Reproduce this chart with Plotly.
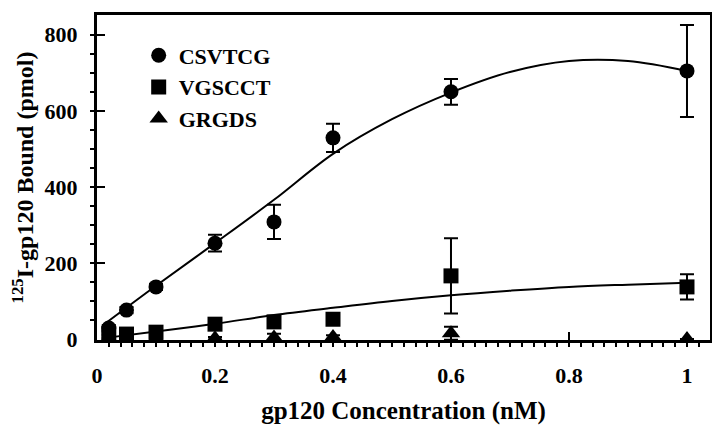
import plotly.graph_objects as go

# ---- data ----
conc = [0.02, 0.05, 0.1, 0.2, 0.3, 0.4, 0.6, 1.0]

csvtcg = [29, 76, 137, 252, 308, 529, 650, 705]
csvtcg_err = [8, 8, 8, 22, 45, 37, 34, 121]

vgscct = [15, 13, 18, 39, 45, 52, 166, 137]
vgscct_err = [4, 4, 4, 6, 5, 5, 99, 33]

grgds = [2, 2, 2, 2, 4, 5, 15, 0]
grgds_err = [0, 0, 0, 3, 10, 5, 17, 0]

# fitted curves
fit_x = [0.015, 0.1, 0.2, 0.3, 0.4, 0.5, 0.6, 0.7, 0.8, 0.9, 1.0]
fit_csvtcg = [42, 140, 252, 366, 487, 578, 648, 702, 731, 731, 705]
fit_vgscct = [3, 20, 40, 63, 82, 100, 115, 127, 137, 143, 148]

y_ticks = [0, 200, 400, 600, 800]
x_ticks = [0, 0.2, 0.4, 0.6, 0.8, 1]
x_tick_text = ["0", "0.2", "0.4", "0.6", "0.8", "1"]

FONT = "Liberation Serif, Times New Roman, serif"

fig = go.Figure()

fig.add_trace(go.Scatter(x=fit_x, y=fit_csvtcg, mode="lines",
                         line=dict(color="black", width=2, shape="spline"),
                         showlegend=False, hoverinfo="skip"))
fig.add_trace(go.Scatter(x=fit_x, y=fit_vgscct, mode="lines",
                         line=dict(color="black", width=2, shape="spline"),
                         showlegend=False, hoverinfo="skip"))

def err(a):
    return dict(type="data", array=a, visible=True, color="black",
                thickness=2, width=7)

fig.add_trace(go.Scatter(x=conc, y=csvtcg, mode="markers", name="CSVTCG",
                         legendgroup="a",
                         marker=dict(symbol="circle", size=15, color="black"),
                         error_y=err(csvtcg_err)))
fig.add_trace(go.Scatter(x=conc, y=vgscct, mode="markers", name="VGSCCT",
                         legendgroup="b",
                         marker=dict(symbol="square", size=15, color="black"),
                         error_y=err(vgscct_err)))
fig.add_trace(go.Scatter(x=conc, y=grgds, mode="markers", name="GRGDS",
                         legendgroup="c",
                         marker=dict(symbol="triangle-up", size=16, color="black"),
                         error_y=err(grgds_err)))

# page body has an 8px default margin, so the figure is sized to fit inside
fig.update_layout(
    width=704, height=417,
    margin=dict(l=89, r=2, t=7, b=85, autoexpand=False),
    paper_bgcolor="white", plot_bgcolor="white",
    font=dict(family=FONT, color="black", size=22),
    showlegend=True,
    legend=dict(x=0.068, y=0.94, xanchor="left", yanchor="top",
                bgcolor="rgba(0,0,0,0)", tracegroupgap=0,
                font=dict(family=FONT, size=22, color="black", weight="bold")),
    xaxis=dict(
        range=[0, 1.039], tickmode="array", tickvals=x_ticks, ticktext=x_tick_text,
        showgrid=False, zeroline=False, automargin=False,
        showline=True, linewidth=3, linecolor="black", mirror=True,
        ticks="inside", ticklen=8, tickwidth=2, tickcolor="black",
        minor=dict(tickmode="linear", tick0=0, dtick=0.02, ticks="outside",
                   ticklen=4, tickwidth=1.5, tickcolor="black", showgrid=False),
        tickfont=dict(family=FONT, size=22, weight="bold"),
        ticklabelstandoff=14,
        title=dict(text="gp120 Concentration (nM)", standoff=20,
                   font=dict(family=FONT, size=25, weight="bold")),
    ),
    yaxis=dict(
        range=[-2.6, 852], tickmode="array", tickvals=y_ticks,
        showgrid=False, zeroline=False, automargin=False,
        showline=True, linewidth=3, linecolor="black", mirror=True,
        ticks="inside", ticklen=8, tickwidth=2, tickcolor="black",
        minor=dict(tickmode="linear", tick0=0, dtick=50, ticks="outside",
                   ticklen=4, tickwidth=1.5, tickcolor="black", showgrid=False),
        tickfont=dict(family=FONT, size=22, weight="bold"),
        ticklabelstandoff=12,
        title=dict(text="<sup>125</sup>I-gp120 Bound (pmol)", standoff=12,
                   font=dict(family=FONT, size=24, weight="bold")),
    ),
)

fig.write_html("out.html")
